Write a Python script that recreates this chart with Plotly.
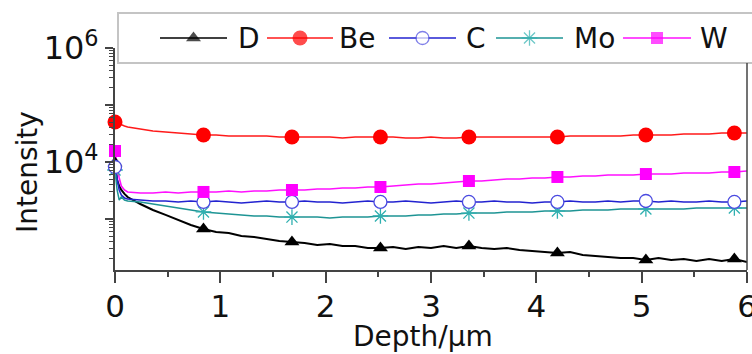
import plotly.graph_objects as go

# ---------------- data ----------------
depth = [0, 0.02, 0.04, 0.06, 0.09, 0.12, 0.24, 0.36, 0.48, 0.60,
         0.72, 0.84, 0.96, 1.08, 1.20, 1.32, 1.44, 1.56, 1.68, 1.80,
         1.92, 2.04, 2.16, 2.28, 2.40, 2.52, 2.64, 2.76, 2.88, 3.00,
         3.12, 3.24, 3.36, 3.48, 3.60, 3.72, 3.84, 3.96, 4.08, 4.20,
         4.32, 4.44, 4.56, 4.68, 4.80, 4.92, 5.04, 5.16, 5.28, 5.40,
         5.52, 5.64, 5.76, 5.88, 6.00]

D = [9600, 4830, 3790, 3230, 2750, 2430, 1830, 1440, 1180, 960,
     785, 668, 591, 568, 503, 483, 446, 411, 395, 379,
     350, 364, 336, 336, 310, 310, 323, 298, 323, 310,
     336, 310, 336, 310, 298, 310, 286, 275, 264, 253,
     264, 234, 224, 215, 207, 207, 191, 207, 191, 199,
     183, 199, 183, 199, 176]

Be = [50400, 48300, 46400, 44600, 42800, 41100, 37900, 35000, 33600, 32300,
      31000, 29800, 29800, 28600, 28600, 28600, 28600, 27500, 27500, 27500,
      27500, 27500, 26400, 27500, 27500, 27500, 27500, 26400, 26400, 27500,
      26400, 26400, 27500, 27500, 27500, 27500, 27500, 27500, 27500, 27500,
      28600, 28600, 28600, 28600, 28600, 29800, 29800, 29800, 29800, 31000,
      31000, 31000, 32300, 32300, 32300]

C = [8170, 4830, 3230, 2640, 2340, 2240, 2150, 2070, 2070, 1990,
     2070, 1990, 2070, 1990, 1910, 1990, 2070, 1990, 1990, 2070,
     1990, 1990, 1910, 1990, 2070, 1990, 1990, 2070, 1990, 1910,
     1990, 2070, 1990, 1990, 2070, 1990, 1990, 1910, 1990, 1990,
     2070, 1990, 1990, 2070, 1990, 2070, 2070, 1990, 2070, 1990,
     1990, 2070, 1990, 1990, 2070]

Mo = [7240, 3230, 2150, 2430, 2150, 2070, 1990, 1830, 1690, 1560,
      1440, 1330, 1270, 1220, 1180, 1130, 1130, 1080, 1080, 1080,
      1080, 1040, 1080, 1080, 1080, 1130, 1130, 1130, 1180, 1180,
      1220, 1220, 1270, 1270, 1270, 1330, 1330, 1330, 1380, 1380,
      1380, 1440, 1440, 1440, 1500, 1500, 1500, 1500, 1500, 1500,
      1560, 1560, 1560, 1560, 1560]

W = [15600, 8860, 5240, 3790, 3230, 2980, 2860, 2860, 2980, 2860,
     2980, 2980, 2980, 3100, 2980, 3100, 3100, 3230, 3230, 3230,
     3360, 3360, 3500, 3500, 3640, 3640, 3790, 3950, 4110, 4110,
     4280, 4460, 4640, 4640, 4830, 5030, 5030, 5240, 5240, 5460,
     5460, 5680, 5680, 5910, 5910, 5910, 6150, 6150, 6150, 6410,
     6410, 6410, 6680, 6680, 6950]

marker_depths = [0, 0.84, 1.68, 2.52, 3.36, 4.20, 5.04, 5.88]
names = ["D", "Be", "C", "Mo", "W"]
x_ticks = [0, 1, 2, 3, 4, 5, 6]
y_ticks = [1e3, 1e4, 1e5, 1e6]
y_ticktext = ["", "10<sup>4</sup>", "", "10<sup>6</sup>"]

# ---------------- styles ----------------
series = {"D": D, "Be": Be, "C": C, "Mo": Mo, "W": W}
line_colors = {"D": "#000000", "Be": "#ff1a1a", "C": "#2323d0", "Mo": "#1e9494", "W": "#ff10ff"}
marker_styles = {
    "D": dict(symbol="triangle-up", size=13, color="#000000", line=dict(width=0)),
    "Be": dict(symbol="circle", size=15, color="#ff0000", line=dict(width=0)),
    "C": dict(symbol="circle", size=13, color="white", line=dict(color="#4a4ae0", width=1.3)),
    "Mo": dict(symbol="asterisk-open", size=13, color="#30b0b0", line=dict(color="#30b0b0", width=1.3)),
    "W": dict(symbol="square", size=12, color="#ff00ff", line=dict(width=0)),
}
line_widths = {"D": 2.0, "Be": 1.5, "C": 1.6, "Mo": 1.5, "W": 1.6}

FIG_W, FIG_H = 752, 354
L, R, T, B = 115, 747, 48, 270   # plot area in pixels

fig = go.Figure()

idx = [depth.index(d) for d in marker_depths]
for n in names:
    vals = series[n]
    fig.add_trace(go.Scatter(x=depth, y=vals, mode="lines", name=n,
                             line=dict(color=line_colors[n], width=line_widths[n]),
                             showlegend=False, hoverinfo="skip"))
for n in ["D", "Mo", "C", "W", "Be"]:
    vals = series[n]
    fig.add_trace(go.Scatter(x=[depth[i] for i in idx], y=[vals[i] for i in idx],
                             mode="markers", marker=marker_styles[n], cliponaxis=False,
                             showlegend=False, hoverinfo="skip"))

# ---------------- hand-drawn legend on a full-figure pixel subplot (x2/y2) ----------------
leg_line_start = [160, 267, 389, 496, 623]
leg_line_end = [227, 333, 456, 563, 691]
leg_text_x = [236, 337, 464, 572, 698]
leg_y = 38
for k, n in enumerate(names):
    xs = [leg_line_start[k], (leg_line_start[k] + leg_line_end[k]) / 2, leg_line_end[k]]
    ms = dict(marker_styles[n])
    ms["size"] = [0, marker_styles[n]["size"], 0]
    fig.add_trace(go.Scatter(x=xs, y=[leg_y] * 3, mode="lines+markers", xaxis="x2", yaxis="y2",
                             line=dict(color=line_colors[n], width=1.5), marker=ms,
                             cliponaxis=False, showlegend=False, hoverinfo="skip"))
    fig.add_annotation(x=leg_text_x[k], y=leg_y, xref="x2", yref="y2", text=n, showarrow=False,
                       xanchor="left", yanchor="middle", font=dict(size=28, color="#111"))

fig.add_annotation(x=423, y=354, xref="x2", yref="y2", text="Depth/\u03bcm", showarrow=False,
                   xanchor="center", yanchor="bottom", borderpad=0,
                   font=dict(size=28, color="#111"))
fig.add_annotation(x=27, y=172, xref="x2", yref="y2", text="Intensity", showarrow=False,
                   textangle=-90, xanchor="center", yanchor="middle", font=dict(size=28, color="#111"))

fig.add_shape(type="rect", xref="x2", yref="y2", x0=118, x1=800,
              y0=63, y1=13, line=dict(color="#c4c4c4", width=2), fillcolor="rgba(0,0,0,0)")
fig.add_shape(type="line", xref="x2", yref="y2", x0=R, x1=R, y0=B, y1=63,
              line=dict(color="#444", width=1.5))

fig.update_layout(
    width=FIG_W, height=FIG_H,
    margin=dict(l=0, r=0, t=0, b=0, pad=0),
    paper_bgcolor="white", plot_bgcolor="rgba(0,0,0,0)", showlegend=False,
    font=dict(family="DejaVu Sans", color="#111"),
    xaxis=dict(domain=[L / FIG_W, R / FIG_W], anchor="y", automargin=False,
               range=[0, 6], tickvals=x_ticks, ticks="outside", ticklen=11, tickwidth=2,
               tickcolor="#444", showline=True, linecolor="#444", linewidth=2,
               showgrid=False, zeroline=False, tickfont=dict(size=31),
               ticklabeloverflow="allow", ticklabelstandoff=-3,
               minor=dict(tickvals=[0.5, 1.5, 2.5, 3.5, 4.5, 5.5], ticks="outside",
                          ticklen=5, tickwidth=1.5, tickcolor="#444")),
    yaxis=dict(domain=[(FIG_H - B) / FIG_H, (FIG_H - T) / FIG_H], anchor="x", automargin=False,
               type="log", range=[2.105, 6], tickvals=y_ticks, ticktext=y_ticktext,
               ticks="outside", ticklen=8, tickwidth=1.5, tickcolor="#444",
               showline=True, linecolor="#444", linewidth=2, showgrid=False, zeroline=False,
               tickfont=dict(size=32), ticklabeloverflow="allow",
               minor=dict(tickvals=[m * 10 ** e for e in range(2, 6) for m in range(2, 10)],
                          ticks="outside", ticklen=4, tickwidth=1, tickcolor="#444")),
    xaxis2=dict(domain=[0, 1], anchor="y2", range=[0, FIG_W], visible=False,
                fixedrange=True, automargin=False),
    yaxis2=dict(domain=[0, 1], anchor="x2", range=[FIG_H, 0], visible=False,
                fixedrange=True, automargin=False),
)

fig.write_html("out.html")
